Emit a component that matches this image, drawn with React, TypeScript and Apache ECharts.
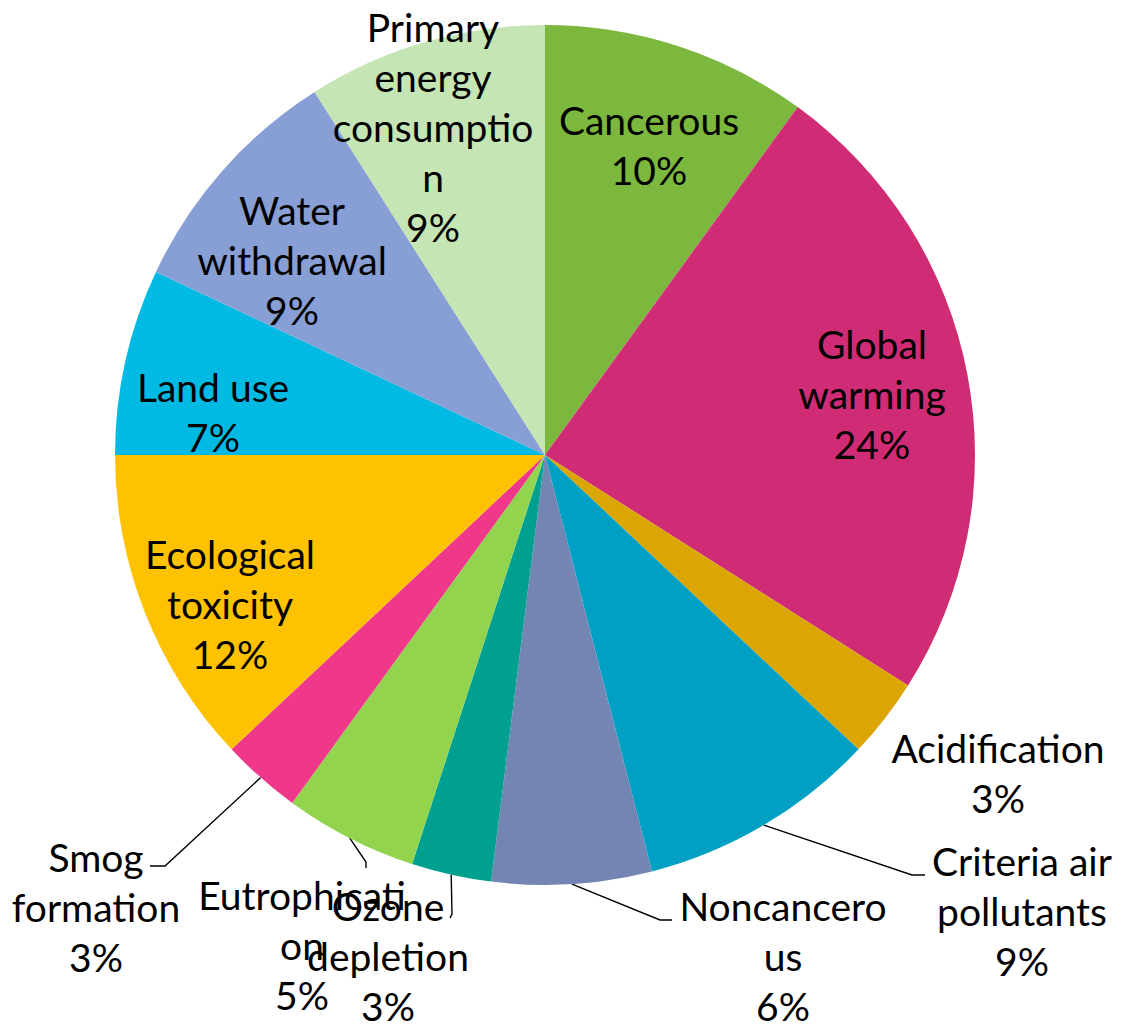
import React, { useEffect, useRef } from "react";
import * as echarts from "echarts";

// Impact categories, clockwise from 12 o'clock
const categories = [
  "Cancerous",
  "Global warming",
  "Acidification",
  "Criteria air pollutants",
  "Noncancerous",
  "Ozone depletion",
  "Eutrophication",
  "Smog formation",
  "Ecological toxicity",
  "Land use",
  "Water withdrawal",
  "Primary energy consumption",
];

// Share of total impact, %
const shares = [10, 24, 3, 9, 6, 3, 5, 3, 12, 7, 9, 9];

// Wrapped label text, as it appears on the chart
const labelText = [
  "Cancerous",
  "Global\nwarming",
  "Acidification",
  "Criteria air\npollutants",
  "Noncancero\nus",
  "Ozone\ndepletion",
  "Eutrophicati\non",
  "Smog\nformation",
  "Ecological\ntoxicity",
  "Land use",
  "Water\nwithdrawal",
  "Primary\nenergy\nconsumptio\nn",
];

const colors = [
  "#7CB83E",
  "#D02B75",
  "#DBA601",
  "#00A0C5",
  "#7385B3",
  "#00A091",
  "#92D44E",
  "#F0388B",
  "#FFC200",
  "#00BAE4",
  "#889FD5",
  "#C6E5B4",
];

// Pie geometry
const CENTER: [number, number] = [545, 455];
const RADIUS = 430;

// Label block centres in chart pixels
const labelCenters: [number, number][] = [
  [649, 145],
  [872, 394],
  [998, 773],
  [1022, 911],
  [783, 956],
  [388, 956],
  [302, 945],
  [96, 907],
  [230, 604],
  [213, 412],
  [292, 260],
  [433, 127],
];

// Leader line elbow and end next to the label (null: no leader line)
const leaderEnds: ([number, number][] | null)[] = [
  null,
  null,
  null,
  [[912, 875], [925, 875]],
  [[660, 920], [672, 920]],
  [[452, 914], [450, 918]],
  [[366, 862], [366, 868]],
  [[165, 866], [150, 866]],
  null,
  null,
  null,
  null,
];

// Point on the pie's rim at the middle of slice i
function rimPoint(i: number): [number, number] {
  const total = shares.reduce((a, b) => a + b, 0);
  const before = shares.slice(0, i).reduce((a, b) => a + b, 0);
  const theta = ((before + shares[i] / 2) / total) * Math.PI * 2;
  return [CENTER[0] + RADIUS * Math.sin(theta), CENTER[1] - RADIUS * Math.cos(theta)];
}

export default function App() {
  const ref = useRef<HTMLDivElement>(null);

  useEffect(() => {
    document.body.style.margin = "0";
    if (!ref.current) return;
    const chart = echarts.init(ref.current, undefined, { renderer: "svg" });

    const data = categories.map((name, i) => ({
      name,
      value: shares[i],
      itemStyle: { color: colors[i] },
      labelLine: {
        show: leaderEnds[i] !== null,
        lineStyle: { color: "#000", width: 1.4 },
      },
    }));

    chart.setOption({
      animation: false,
      backgroundColor: "#fff",
      series: [
        {
          type: "pie",
          center: CENTER,
          radius: RADIUS,
          startAngle: 90,
          clockwise: true,
          avoidLabelOverlap: false,
          silent: true,
          data,
          itemStyle: { borderWidth: 0 },
          label: {
            show: true,
            position: "outside",
            color: "#000",
            fontFamily: "Lato",
            fontSize: 39,
            lineHeight: 50,
            align: "center",
            formatter: (p: any) => `${labelText[p.dataIndex]}\n${shares[p.dataIndex]}%`,
          },
          labelLine: { show: false },
          labelLayout: (p: any) => {
            const i = p.dataIndex;
            const ends = leaderEnds[i];
            const out: any = {
              x: labelCenters[i][0],
              y: labelCenters[i][1],
              align: "center",
              verticalAlign: "middle",
            };
            if (ends) out.labelLinePoints = [rimPoint(i), ends[0], ends[1]];
            return out;
          },
        },
      ],
    });

    return () => chart.dispose();
  }, []);

  return <div ref={ref} style={{ width: 1124, height: 1032 }} />;
}
